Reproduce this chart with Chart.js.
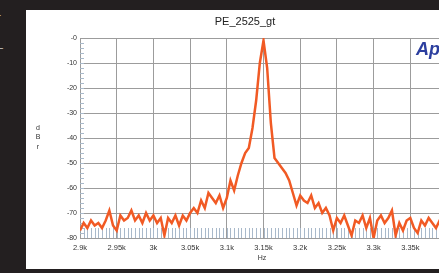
<!DOCTYPE html>
<html>
<head>
<meta charset="utf-8">
<script src="https://cdn.jsdelivr.net/npm/chart.js@4.4.1/dist/chart.umd.min.js"></script>
<style>
  html, body { margin: 0; padding: 0; }
  body { width: 439px; height: 273px; background: #231f20; overflow: hidden; position: relative; font-family: "Liberation Sans", Arial, sans-serif; }
  #panel { position: absolute; left: 26px; top: 10px; width: 450px; height: 259px; background: #ffffff; }
  .mark { position: absolute; color: #e8e8e8; font-size: 9px; line-height: 9px; }
</style>
</head>
<body>
<span class="mark" style="left:-2px;top:11px;">-</span>
<span class="mark" style="left:-2px;top:44px;">–</span>
<div id="panel"><canvas id="chart" width="450" height="259"></canvas></div>
<script>
// sweep around the 3.15 kHz tone, levels in dBr
const freqs = [
  2900, 2905, 2910, 2915, 2920, 2925, 2930, 2935, 2940, 2945,
  2950, 2955, 2960, 2965, 2970, 2975, 2980, 2985, 2990, 2995,
  3000, 3005, 3010, 3015, 3020, 3025, 3030, 3035, 3040, 3045,
  3050, 3055, 3060, 3065, 3070, 3075, 3080, 3085, 3090, 3095,
  3100, 3105, 3110, 3115, 3120, 3125, 3130, 3135, 3140, 3145,
  3150, 3155, 3160, 3165, 3170, 3175, 3180, 3185, 3190, 3195,
  3200, 3205, 3210, 3215, 3220, 3225, 3230, 3235, 3240, 3245,
  3250, 3255, 3260, 3265, 3270, 3275, 3280, 3285, 3290, 3295,
  3300, 3305, 3310, 3315, 3320, 3325, 3330, 3335, 3340, 3345,
  3350, 3355, 3360, 3365, 3370, 3375, 3380, 3385, 3390, 3395, 3400
];
const levels = [
  -77, -74, -76, -73, -75, -74, -76, -73, -69, -75,
  -77, -71, -73, -72, -69, -73, -71, -74, -70, -73,
  -71, -74, -72, -79, -72, -74, -71, -75, -71, -73,
  -70, -68, -70, -65, -68, -62, -64, -66, -63, -68,
  -64, -57, -61, -55, -50, -46, -44, -36, -25, -10,
  -1, -12, -34, -48, -50, -52, -54, -57, -62, -67,
  -63, -65, -66, -63, -68, -66, -70, -68, -71, -77,
  -72, -74, -71, -75, -79, -73, -74, -71, -76, -72,
  -80, -73, -71, -74, -72, -69, -79, -74, -77, -73,
  -72, -76, -78, -73, -75, -72, -74, -76, -73, -75, -74
];
const yTicks = [0, -10, -20, -30, -40, -50, -60, -70, -80];
const title = 'PE_2525_gt';
const xTitle = 'Hz';
const yTitle = ['d', 'B', 'r'];

const points = freqs.map((f, i) => ({ x: f, y: levels[i] }));

// minor ticks, title, axis names and the logo
const extras = {
  id: 'extras',
  beforeDatasetsDraw(chart) {
    const { ctx, chartArea: a, scales: { x, y } } = chart;
    ctx.save();
    ctx.strokeStyle = '#a9b9ca';
    ctx.lineWidth = 1;
    ctx.beginPath();
    for (let f = 2905; f < 3400; f += 5) {
      const px = Math.round(x.getPixelForValue(f)) + 0.5;
      ctx.moveTo(px, a.bottom);
      ctx.lineTo(px, a.bottom - 10);
    }
    for (let v = -78; v < 0; v += 2) {
      const py = Math.round(y.getPixelForValue(v)) + 0.5;
      ctx.moveTo(a.left, py);
      ctx.lineTo(a.left + 4, py);
    }
    ctx.stroke();
    ctx.restore();
  },
  afterDraw(chart) {
    const { ctx } = chart;
    ctx.save();
    ctx.fillStyle = '#222';
    ctx.textAlign = 'center';
    ctx.textBaseline = 'middle';
    ctx.font = '11px "Liberation Sans", Arial, sans-serif';
    ctx.fillText(title, 219, 12);
    ctx.font = '7px "Liberation Sans", Arial, sans-serif';
    ctx.fillStyle = '#333';
    ctx.fillText(xTitle, 236, 248);
    ctx.font = '7px "Liberation Sans", Arial, sans-serif';
    yTitle.forEach((c, i) => ctx.fillText(c, 12, 118 + i * 9.5));
    ctx.fillStyle = '#2c3f9f';
    ctx.textAlign = 'left';
    ctx.textBaseline = 'alphabetic';
    ctx.font = 'italic bold 18px "Liberation Sans", Arial, sans-serif';
    ctx.fillText('Ap', 390, 45);
    ctx.restore();
  }
};

new Chart(document.getElementById('chart'), {
  type: 'line',
  data: {
    datasets: [{
      data: points,
      borderColor: '#f15a24',
      borderWidth: 2.5,
      pointRadius: 0,
      tension: 0,
      fill: false
    }]
  },
  options: {
    responsive: false,
    animation: false,
    layout: { padding: { top: 28, right: 29, left: 0, bottom: 0 } },
    plugins: { legend: { display: false }, tooltip: { enabled: false } },
    scales: {
      x: {
        type: 'linear',
        min: 2900,
        max: 3400,
        grid: { color: '#9c9c9c', drawTicks: false },
        border: { color: '#9c9c9c' },
        ticks: {
          stepSize: 50,
          padding: 5,
          maxRotation: 0,
          color: '#333',
          font: { size: 7.5, family: '"Liberation Sans", Arial, sans-serif' },
          callback: v => (v / 1000) + 'k'
        },
        afterFit(s) { s.height = 31; s.paddingLeft = 0; s.paddingRight = 0; }
      },
      y: {
        min: -80,
        max: 0,
        afterBuildTicks(s) { s.ticks = yTicks.map(v => ({ value: v })); },
        grid: { color: '#9c9c9c', drawTicks: false },
        border: { color: '#9c9c9c' },
        ticks: {
          padding: 3,
          color: '#333',
          font: { size: 7, family: '"Liberation Sans", Arial, sans-serif' },
          callback: v => v === 0 ? '-0' : String(v)
        },
        afterFit(s) { s.width = 54; s.paddingTop = 0; s.paddingBottom = 0; }
      }
    }
  },
  plugins: [extras]
});
</script>
</body>
</html>
